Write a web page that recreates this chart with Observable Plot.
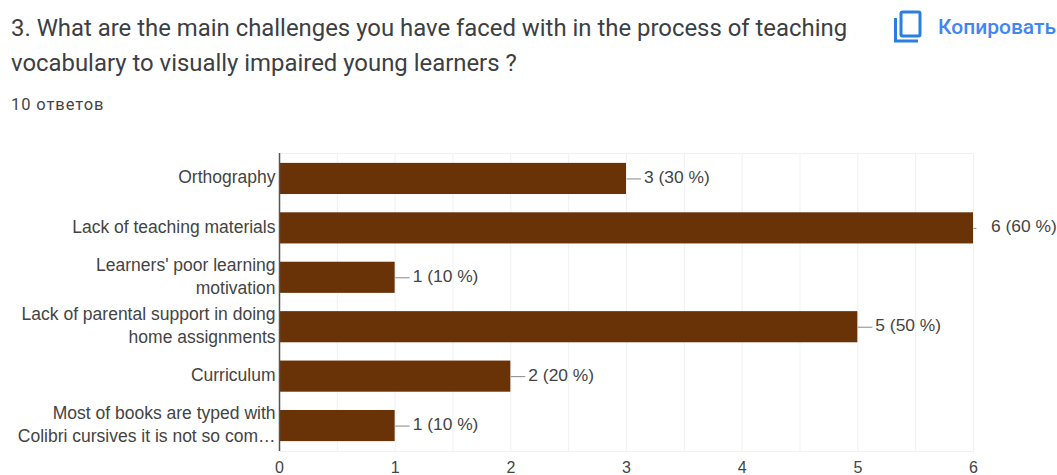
<!DOCTYPE html>
<html>
<head>
<meta charset="utf-8">
<script src="https://cdn.jsdelivr.net/npm/d3@7"></script>
<script src="https://cdn.jsdelivr.net/npm/@observablehq/plot@0.6"></script>
<style>
  html, body { margin: 0; padding: 0; background: #fff; overflow: hidden; }
  #page { position: relative; width: 1057px; height: 475px; overflow: hidden; }
  #header { position: relative; height: 145px; }
  #question { position: absolute; left: 11px; top: 11px; width: 860px; font: 400 23.9px/35px Roboto, sans-serif; color: #3c4043; }
  #count { position: absolute; left: 11px; top: 95px; font: 400 16.5px/20px Roboto, sans-serif; letter-spacing: 0.9px; color: #444; }
  #copy { position: absolute; left: 938px; top: 15px; font: 500 21px/24px Roboto, sans-serif; color: #4285f4; white-space: nowrap; }
  #icon { position: absolute; left: 893px; top: 10px; }
  svg.chart { display: block; }
</style>
</head>
<body>
<div id="page">
  <div id="header">
    <div id="question">3. What are the main challenges you have faced with in the process of teaching vocabulary to visually impaired young learners ?</div>
    <div id="count">10 ответов</div>
    <svg id="icon" width="30" height="34" viewBox="0 0 30 34" fill="none" stroke="#2a7de1" stroke-width="3">
      <rect x="8" y="2" width="19" height="24" rx="1.5"></rect>
      <path d="M2.5 8 V31 H25"></path>
    </svg>
    <div id="copy">Копировать</div>
  </div>
  <div id="chart"></div>
</div>
<script>
// Survey answers, in the order they are listed on the form
const categories = [
  "Orthography",
  "Lack of teaching materials",
  "Learners' poor learning\nmotivation",
  "Lack of parental support in doing\nhome assignments",
  "Curriculum",
  "Most of books are typed with\nColibri cursives it is not so com…"
];
const counts = [3, 6, 1, 5, 2, 1];
const percents = [30, 60, 10, 50, 20, 10];
// Leader line length in axis units; the longest bar only gets a stub
const leaders = [0.125, 0.025, 0.125, 0.125, 0.125, 0.125];

const majorTicks = [0, 1, 2, 3, 4, 5, 6];
const gridTicks = [0.5, 1, 1.5, 2, 2.5, 3, 3.5, 4, 4.5, 5, 5.5, 6];

const rows = categories.map((category, i) => ({
  category,
  count: counts[i],
  label: `${counts[i]} (${percents[i]} %)`,
  leaderEnd: counts[i] + leaders[i]
}));

const chart = Plot.plot({
  width: 1057,
  height: 330,
  marginLeft: 279,
  marginRight: 84,
  marginTop: 8,
  marginBottom: 24,
  style: { fontFamily: "'Liberation Sans', Arial, sans-serif", background: "#fff", overflow: "visible" },
  x: { domain: [0, 6] },
  y: { domain: categories, padding: 0.37, paddingOuter: 0.2, align: 0.5, round: false },
  marks: [
    Plot.ruleX(gridTicks, { stroke: "#f1f1f1", strokeWidth: 1 }),
    Plot.frame({ anchor: "top", stroke: "#f1f1f1" }),
    Plot.frame({ anchor: "bottom", stroke: "#f1f1f1" }),
    Plot.barX(rows, { x: "count", y: "category", fill: "#693207" }),
    Plot.link(rows, { x1: "count", x2: "leaderEnd", y1: "category", y2: "category", stroke: "#888", strokeWidth: 1 }),
    Plot.text(rows, {
      x: "count", y: "category", text: "label", dx: 17.5, dy: -1.5, textAnchor: "start",
      fontSize: 17.4, fill: "#444"
    }),
    Plot.ruleX([0], { stroke: "#555", strokeWidth: 1.5 }),
    Plot.axisY({
      anchor: "left", tickSize: 0, tickPadding: 4, label: null,
      fontSize: 17.5, lineHeight: 1.32, color: "#444", stroke: "none", dy: -3
    }),
    Plot.axisX({
      anchor: "bottom", ticks: majorTicks, tickFormat: d3.format("d"),
      tickSize: 0, tickPadding: 10, label: null, fontSize: 16, color: "#444"
    })
  ]
});
chart.classList.add("chart");
document.getElementById("chart").appendChild(chart);
</script>
</body>
</html>
